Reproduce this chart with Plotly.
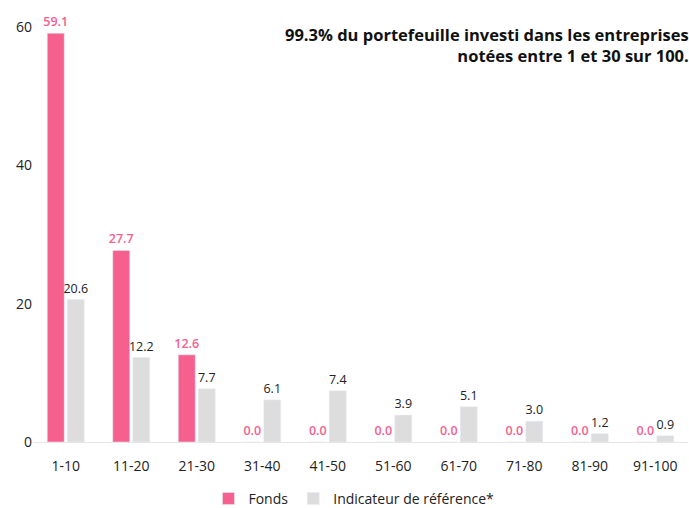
import plotly.graph_objects as go

categories = ["1-10", "11-20", "21-30", "31-40", "41-50", "51-60", "61-70", "71-80", "81-90", "91-100"]
fonds = [59.1, 27.7, 12.6, 0.0, 0.0, 0.0, 0.0, 0.0, 0.0, 0.0]
indicateur = [20.6, 12.2, 7.7, 6.1, 7.4, 3.9, 5.1, 3.0, 1.2, 0.9]
y_ticks = [0, 20, 40, 60]

PINK = "#f5608f"
GRAY = "#dddddd"
FONT = "Open Sans"

fig = go.Figure()
fig.add_trace(go.Bar(
    x=categories, y=fonds, name="Fonds", marker_color=PINK,
    text=[f"{v:.1f}" for v in fonds], textposition="outside", constraintext="none",
    textfont=dict(color=PINK, size=12.5, family=FONT, weight=600),
    cliponaxis=False,
))
fig.add_trace(go.Bar(
    x=categories, y=indicateur, name="Indicateur de référence*", marker_color=GRAY,
    text=[f"{v:.1f}" for v in indicateur], textposition="outside", constraintext="none",
    textfont=dict(color="#222222", size=12.5, family=FONT),
    cliponaxis=False,
))

fig.update_layout(
    width=689, height=508,
    margin=dict(l=33, r=1, t=27, b=66),
    plot_bgcolor="white", paper_bgcolor="white",
    font=dict(family=FONT, size=14, color="#222222"),
    barmode="group", bargap=0.39, bargroupgap=0.15,
    showlegend=True,
    legend=dict(orientation="h", x=0.49, xanchor="center", yref="container", y=0.018, yanchor="middle",
                font=dict(size=14, family=FONT), itemwidth=30),
    xaxis=dict(showgrid=False, showline=True, linecolor="#e6e6e6", linewidth=1,
               ticks="outside", ticklen=11, tickcolor="rgba(0,0,0,0)", tickfont=dict(size=14)),
    yaxis=dict(range=[0, 60], tickvals=y_ticks, showgrid=False, zeroline=False,
               showline=False, ticks="", tickfont=dict(size=14)),
)
fig.add_annotation(
    text="<b>99.3% du portefeuille investi dans les entreprises<br>notées entre 1 et 30 sur 100.</b>",
    xref="paper", yref="paper", x=1.005, y=1.015, xanchor="right", yanchor="top",
    align="right", showarrow=False, font=dict(size=16.5, family=FONT, color="#111111"),
)

fig.write_html("out.html", config={"displayModeBar": False})
with open("out.html", encoding="utf-8") as f:
    html = f.read()
html = html.replace("<head>", "<head><style>html,body{margin:0;padding:0;overflow:hidden}</style>", 1)
with open("out.html", "w", encoding="utf-8") as f:
    f.write(html)
